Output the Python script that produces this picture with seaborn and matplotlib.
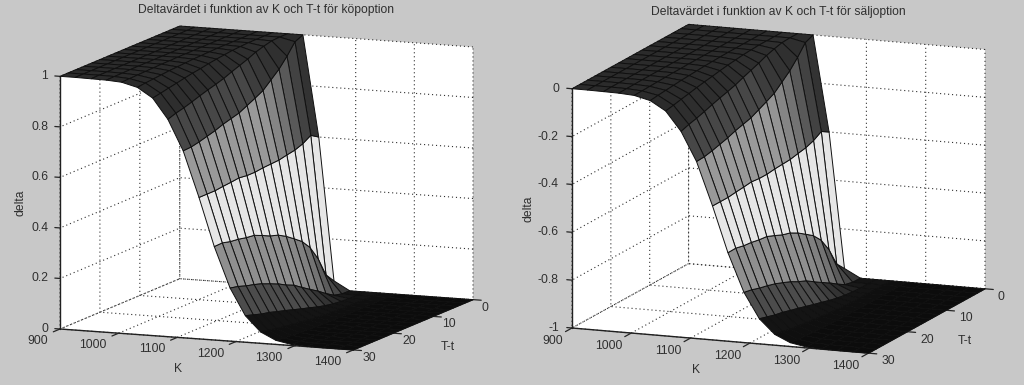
import numpy as np
import matplotlib
matplotlib.use('Agg')
import matplotlib.pyplot as plt
import seaborn as sns
from matplotlib.ticker import NullFormatter
from matplotlib.transforms import IdentityTransform
from mpl_toolkits.mplot3d import proj3d

# grid of the two surfaces
K = [900, 926, 953, 979, 1005, 1032, 1058, 1084, 1110, 1137,
     1163, 1190, 1216, 1242, 1268, 1295, 1321, 1347, 1374, 1400]
Tt = [0, 2, 4, 6, 8, 10, 12, 14, 16, 18, 20, 22, 24, 26, 28, 30]

# delta, one row per T-t
delta_call = [
    [1, 1, 1, 1, 1, 1, 1, 1, 1, .60, .035, 0, 0, 0, 0, 0, 0, 0, 0, 0],
    [1, 1, 1, 1, 1, 1, 1, 1, .986, .62, .072, .001, 0, 0, 0, 0, 0, 0, 0, 0],
    [1, 1, 1, 1, 1, 1, 1, .998, .942, .60, .15, .009, 0, 0, 0, 0, 0, 0, 0, 0],
    [1, 1, 1, 1, 1, 1, 1, .99, .904, .588, .207, .029, .002, 0, 0, 0, 0, 0, 0, 0],
    [1, 1, 1, 1, 1, 1, .998, .98, .875, .582, .244, .052, .006, 0, 0, 0, 0, 0, 0, 0],
    [1, 1, 1, 1, 1, 1, .996, .966, .846, .575, .268, .072, .012, .001, 0, 0, 0, 0, 0, 0],
    [1, 1, 1, 1, 1, .999, .992, .954, .829, .573, .291, .093, .02, .003, 0, 0, 0, 0, 0, 0],
    [1, 1, 1, 1, 1, .998, .988, .942, .813, .571, .309, .115, .03, .005, .001, 0, 0, 0, 0, 0],
    [1, 1, 1, 1, 1, .997, .983, .929, .797, .567, .319, .129, .039, .008, .001, 0, 0, 0, 0, 0],
    [1, 1, 1, 1, .999, .995, .977, .919, .788, .567, .334, .147, .049, .012, .002, 0, 0, 0, 0, 0],
    [1, 1, 1, 1, .999, .993, .972, .91, .779, .571, .348, .161, .059, .017, .003, .001, 0, 0, 0, 0],
    [1, 1, 1, 1, .998, .991, .966, .90, .767, .567, .352, .174, .068, .021, .005, .001, 0, 0, 0, 0],
    [1, 1, 1, 1, .997, .988, .959, .889, .758, .564, .359, .184, .078, .026, .007, .001, 0, 0, 0, 0],
    [1, 1, 1, .999, .996, .985, .953, .879, .749, .56, .363, .192, .085, .031, .009, .002, 0, 0, 0, 0],
    [1, 1, 1, .999, .995, .982, .946, .871, .742, .56, .371, .203, .095, .038, .012, .003, .001, 0, 0, 0],
    [1, 1, .999, .998, .994, .978, .94, .86, .74, .56, .37, .21, .105, .045, .016, .004, .001, 0, 0, 0],
]
delta_put = [
    [0, 0, 0, 0, 0, 0, 0, 0, 0, -.40, -.965, -1, -1, -1, -1, -1, -1, -1, -1, -1],
    [0, 0, 0, 0, 0, 0, 0, 0, -.014, -.38, -.928, -.999, -1, -1, -1, -1, -1, -1, -1, -1],
    [0, 0, 0, 0, 0, 0, 0, -.002, -.058, -.40, -.85, -.991, -1, -1, -1, -1, -1, -1, -1, -1],
    [0, 0, 0, 0, 0, 0, 0, -.01, -.096, -.412, -.793, -.971, -.998, -1, -1, -1, -1, -1, -1, -1],
    [0, 0, 0, 0, 0, 0, -.002, -.02, -.125, -.418, -.756, -.948, -.994, -1, -1, -1, -1, -1, -1, -1],
    [0, 0, 0, 0, 0, 0, -.004, -.034, -.154, -.425, -.732, -.928, -.988, -.999, -1, -1, -1, -1, -1, -1],
    [0, 0, 0, 0, 0, -.001, -.008, -.046, -.171, -.427, -.709, -.907, -.98, -.997, -1, -1, -1, -1, -1, -1],
    [0, 0, 0, 0, 0, -.002, -.012, -.058, -.187, -.429, -.691, -.885, -.97, -.995, -.999, -1, -1, -1, -1, -1],
    [0, 0, 0, 0, 0, -.003, -.017, -.071, -.203, -.433, -.681, -.871, -.961, -.992, -.999, -1, -1, -1, -1, -1],
    [0, 0, 0, 0, -.001, -.005, -.023, -.081, -.212, -.433, -.666, -.853, -.951, -.988, -.998, -1, -1, -1, -1, -1],
    [0, 0, 0, 0, -.001, -.007, -.028, -.09, -.221, -.429, -.652, -.839, -.941, -.983, -.997, -.999, -1, -1, -1, -1],
    [0, 0, 0, 0, -.002, -.009, -.034, -.10, -.233, -.433, -.648, -.826, -.932, -.979, -.995, -.999, -1, -1, -1, -1],
    [0, 0, 0, 0, -.003, -.012, -.041, -.111, -.242, -.436, -.641, -.816, -.922, -.974, -.993, -.999, -1, -1, -1, -1],
    [0, 0, 0, -.001, -.004, -.015, -.047, -.121, -.251, -.44, -.637, -.808, -.915, -.969, -.991, -.998, -1, -1, -1, -1],
    [0, 0, 0, -.001, -.005, -.018, -.054, -.129, -.258, -.44, -.629, -.797, -.905, -.962, -.988, -.997, -.999, -1, -1, -1],
    [0, 0, -.001, -.002, -.006, -.022, -.06, -.14, -.26, -.44, -.63, -.79, -.895, -.955, -.984, -.996, -.999, -1, -1, -1],
]

# grey level of each K band of the surface
band_grey = [.17, .17, .17, .17, .17, .17, .18, .28, .6, .9, .56, .3, .08,
             .06, .05, .05, .05, .05, .05]
# the bands that darken towards T-t = 0, strip by strip from T-t = 0
near_expiry_grey = {
    7: [.17, .18, .19, .2, .22, .24],
    8: [.2, .26, .35, .45, .52, .58],
    10: [.22, .28, .36, .45, .5, .53],
    11: [.08, .1, .13, .17, .2, .24, .27],
}

k_ticks = [900, 1000, 1100, 1200, 1300, 1400]
t_ticks = [0, 10, 20, 30]
call_ticks = [0, .2, .4, .6, .8, 1]
call_labels = ['0', '0.2', '0.4', '0.6', '0.8', '1']
put_ticks = [-1, -.8, -.6, -.4, -.2, 0]
put_labels = ['-1', '-0.8', '-0.6', '-0.4', '-0.2', '0']

sns.set_theme(style='white')
plt.rcParams['font.family'] = ['Liberation Sans', 'DejaVu Sans']
BG = '#c8c8c8'
INK = '#303030'
FS = 8.7
gray = sns.color_palette('gray', as_cmap=True)

fig = plt.figure(figsize=(10.24, 3.85), dpi=100, facecolor=BG)

grey_grid = np.tile(band_grey + band_grey[-1:], (len(Tt), 1))
for band, levels in near_expiry_grey.items():
    grey_grid[:len(levels), band] = levels


def to_px(ax, x, y, z):
    # data position -> figure pixels, y counted from the top
    px, py, _ = proj3d.proj_transform(x, y, z, ax.get_proj())
    p = ax.transData.transform((px, py))
    return p[0], 385 - p[1]


def put_text(x, y, s, **kw):
    fig.text(x, 385 - y, s, transform=IdentityTransform(), color=INK, fontsize=FS, **kw)


def panel(z_data, z_ticks, z_labels, zlim, elev, azim, box, anchor, far, title, title_xy,
          k_xy, t_xy, d_xy, k_off, t_off, z_off):
    ax = fig.add_axes([0.1, 0.1, 0.4, 0.8], projection='3d', facecolor=BG)
    ax.set_proj_type('ortho')
    ax.view_init(elev=elev, azim=azim)
    ax.set_box_aspect(box)
    X, Y = np.meshgrid(K, Tt)
    Z = np.array(z_data)
    ax.plot_surface(X, Y, Z, facecolors=gray(grey_grid), rstride=1, cstride=1, shade=False,
                    edgecolor='#101010', linewidth=0.7, antialiased=True)
    ax.set_xlim(K[0], K[-1], view_margin=0)
    ax.set_ylim(Tt[-1], Tt[0], view_margin=0)
    ax.set_zlim(zlim[0], zlim[1], view_margin=0)
    ax.set_xticks(k_ticks)
    ax.set_yticks(t_ticks)
    ax.set_zticks(z_ticks)
    ax.zaxis._axinfo['juggled'] = (1, 2, 0)
    for axis in (ax.xaxis, ax.yaxis, ax.zaxis):
        axis.set_major_formatter(NullFormatter())
        axis.set_pane_color('white')
        axis.pane.set_edgecolor('none')
        axis.line.set_color('#202020')
        axis.line.set_linewidth(1.0)
        axis._axinfo['grid'].update(color='#303030', linestyle=(0, (1, 2.6)), linewidth=0.8)
        axis._axinfo['tick']['linewidth'] = {True: 0.9, False: 0.9}
        axis._axinfo['tick']['color'] = '#202020'
    # all ticks point away from the box
    ax.xaxis._axinfo['tick'].update(inward_factor=0.7, outward_factor=0)
    ax.yaxis._axinfo['tick'].update(inward_factor=0.35, outward_factor=0)
    ax.zaxis._axinfo['tick'].update(inward_factor=0, outward_factor=0.22)

    # scale and move the axes so the box corners land where they should
    for _ in range(3):
        fig.canvas.draw()
        ax0 = to_px(ax, K[0], Tt[-1], zlim[0])
        ax1 = to_px(ax, K[-1], Tt[0], zlim[0])
        scale = (far[0] - anchor[0]) / (ax1[0] - ax0[0])
        pos = ax.get_position(original=True)
        ax.set_position([pos.x0, pos.y0, pos.width * scale, pos.height * scale])
        fig.canvas.draw()
        ax0 = to_px(ax, K[0], Tt[-1], zlim[0])
        pos = ax.get_position(original=True)
        ax.set_position([pos.x0 + (anchor[0] - ax0[0]) / 1024, pos.y0 - (anchor[1] - ax0[1]) / 385,
                         pos.width, pos.height])
    fig.canvas.draw()

    for k in k_ticks:
        x, y = to_px(ax, k, Tt[-1], zlim[0])
        put_text(x + k_off[0], y + k_off[1], str(k), ha='right', va='center')
    for t in t_ticks:
        x, y = to_px(ax, K[-1], t, zlim[0])
        put_text(x + t_off[0], y + t_off[1], str(t), ha='left', va='center')
    for v, s in zip(z_ticks, z_labels):
        x, y = to_px(ax, K[0], Tt[-1], v)
        put_text(x + z_off, y, s, ha='right', va='center')
    put_text(title_xy[0], title_xy[1], title, ha='center', va='center')
    put_text(k_xy[0], k_xy[1], 'K', ha='center', va='center')
    put_text(t_xy[0], t_xy[1], 'T-t', ha='center', va='center')
    put_text(d_xy[0], d_xy[1], 'delta', ha='center', va='center', rotation=90)
    return ax


panel(delta_call, call_ticks, call_labels, (0, 1), 9.97, -67.6, (319, 316, 258),
      (60, 329), (473, 300), 'Deltavärdet i funktion av K och T-t för köpoption', (266, 10),
      (178, 369), (448, 347), (20, 203), (-12, 12), (9, 8), -12)
panel(delta_put, put_ticks, put_labels, (-1, 0), 12.5, -68.6, (317, 318, 244),
      (572, 328), (985, 289), 'Deltavärdet i funktion av K och T-t för säljoption', (778, 12),
      (696, 370), (965, 341), (528, 209), (-9, 13), (13, 8), -13)

fig.savefig('out.png', dpi=100, facecolor=BG)
